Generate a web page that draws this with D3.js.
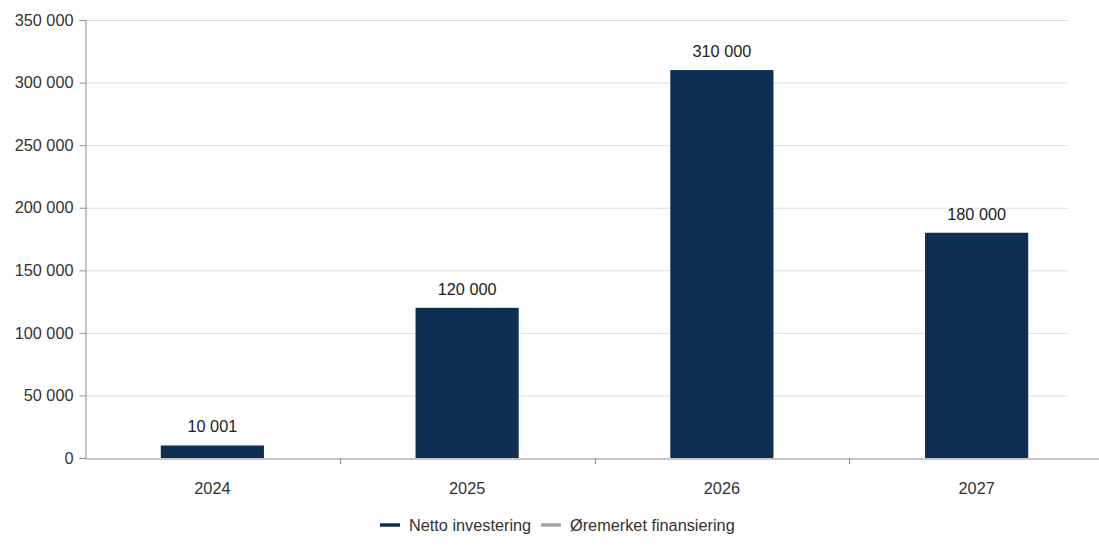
<!DOCTYPE html>
<html><head><meta charset="utf-8">
<script src="https://cdnjs.cloudflare.com/ajax/libs/d3/7.8.5/d3.min.js"></script>
<style>
html,body{margin:0;padding:0;background:#fff;}
text{font-family:"Liberation Sans",Arial,sans-serif;}
</style></head>
<body><svg id="chart" width="1099" height="546"></svg>
<script>
const categories = ["2024", "2025", "2026", "2027"];
const nettoInvestering = [10001, 120000, 310000, 180000];
const oremerketFinansiering = [0, 0, 0, 0];
const yTicks = [0, 50000, 100000, 150000, 200000, 250000, 300000, 350000];
const seriesNames = ["Netto investering", "Øremerket finansiering"];
const seriesColors = ["#0f2f52", "#a6a6a6"];

const svg = d3.select("#chart");
const fmt = v => d3.format(",")(v).replace(/,/g, " ");
const FS = 16.3;

const x = d3.scaleBand().domain(categories).range([85, 1104]).paddingInner(0).paddingOuter(0);
const y = d3.scaleLinear().domain([0, 350000]).range([458, 20]);
const gridRight = 1068;

// gridlines
svg.append("g").selectAll("line").data(yTicks.filter(d => d > 0)).join("line")
  .attr("x1", 85).attr("x2", gridRight)
  .attr("y1", d => y(d) + 0.5).attr("y2", d => y(d) + 0.5)
  .attr("stroke", "#dcdcdc").attr("stroke-width", 1);

// y axis
const yAxis = svg.append("g").attr("transform", "translate(85.5,0)")
  .call(d3.axisLeft(y).tickValues(yTicks).tickFormat(fmt).tickSize(6).tickPadding(6));
yAxis.select(".domain").attr("stroke", "#8c8c8c");
yAxis.selectAll(".tick line").attr("stroke", "#8c8c8c");
yAxis.selectAll(".tick text").attr("font-size", FS).attr("fill", "#333").attr("font-family", "Liberation Sans, Arial, sans-serif");

// stacked bars
const data = categories.map((c, i) => ({cat: c, netto: nettoInvestering[i], orem: oremerketFinansiering[i]}));
const stack = d3.stack().keys(["netto", "orem"])(data);
const barW = x.bandwidth() * 0.405;
svg.append("g").selectAll("g").data(stack).join("g")
  .attr("fill", (d, i) => seriesColors[i])
  .selectAll("rect").data(d => d).join("rect")
  .attr("x", d => x(d.data.cat) + (x.bandwidth() - barW) / 2)
  .attr("y", d => y(d[1]))
  .attr("width", barW)
  .attr("height", d => y(d[0]) - y(d[1]));

// x axis
const xAxis = svg.append("g").attr("transform", "translate(0,458.5)")
  .call(d3.axisBottom(x).tickSize(0).tickPadding(24));
xAxis.select(".domain").attr("stroke", "#8c8c8c");
xAxis.selectAll(".tick text").attr("font-size", FS).attr("fill", "#333").attr("font-family", "Liberation Sans, Arial, sans-serif");
// boundary ticks
svg.append("g").selectAll("line").data(categories.slice(1)).join("line")
  .attr("x1", d => Math.round(x(d)) + 0.5).attr("x2", d => Math.round(x(d)) + 0.5)
  .attr("y1", 458).attr("y2", 464).attr("stroke", "#8c8c8c");

// value labels
svg.append("g").selectAll("text").data(data).join("text")
  .attr("x", d => x(d.cat) + x.bandwidth() / 2)
  .attr("y", d => y(d.netto + d.orem) - 13)
  .attr("text-anchor", "middle").attr("font-size", FS).attr("fill", "#222")
  .text(d => fmt(d.netto));

// legend
const legend = svg.append("g");
const legX = [380, 541];
seriesNames.forEach((n, i) => {
  legend.append("line").attr("x1", legX[i]).attr("x2", legX[i] + 20)
    .attr("y1", 525).attr("y2", 525).attr("stroke", seriesColors[i]).attr("stroke-width", 3.5);
  legend.append("text").attr("x", legX[i] + 29).attr("y", 531)
    .attr("font-size", FS).attr("fill", "#333").text(n);
});
</script></body></html>
